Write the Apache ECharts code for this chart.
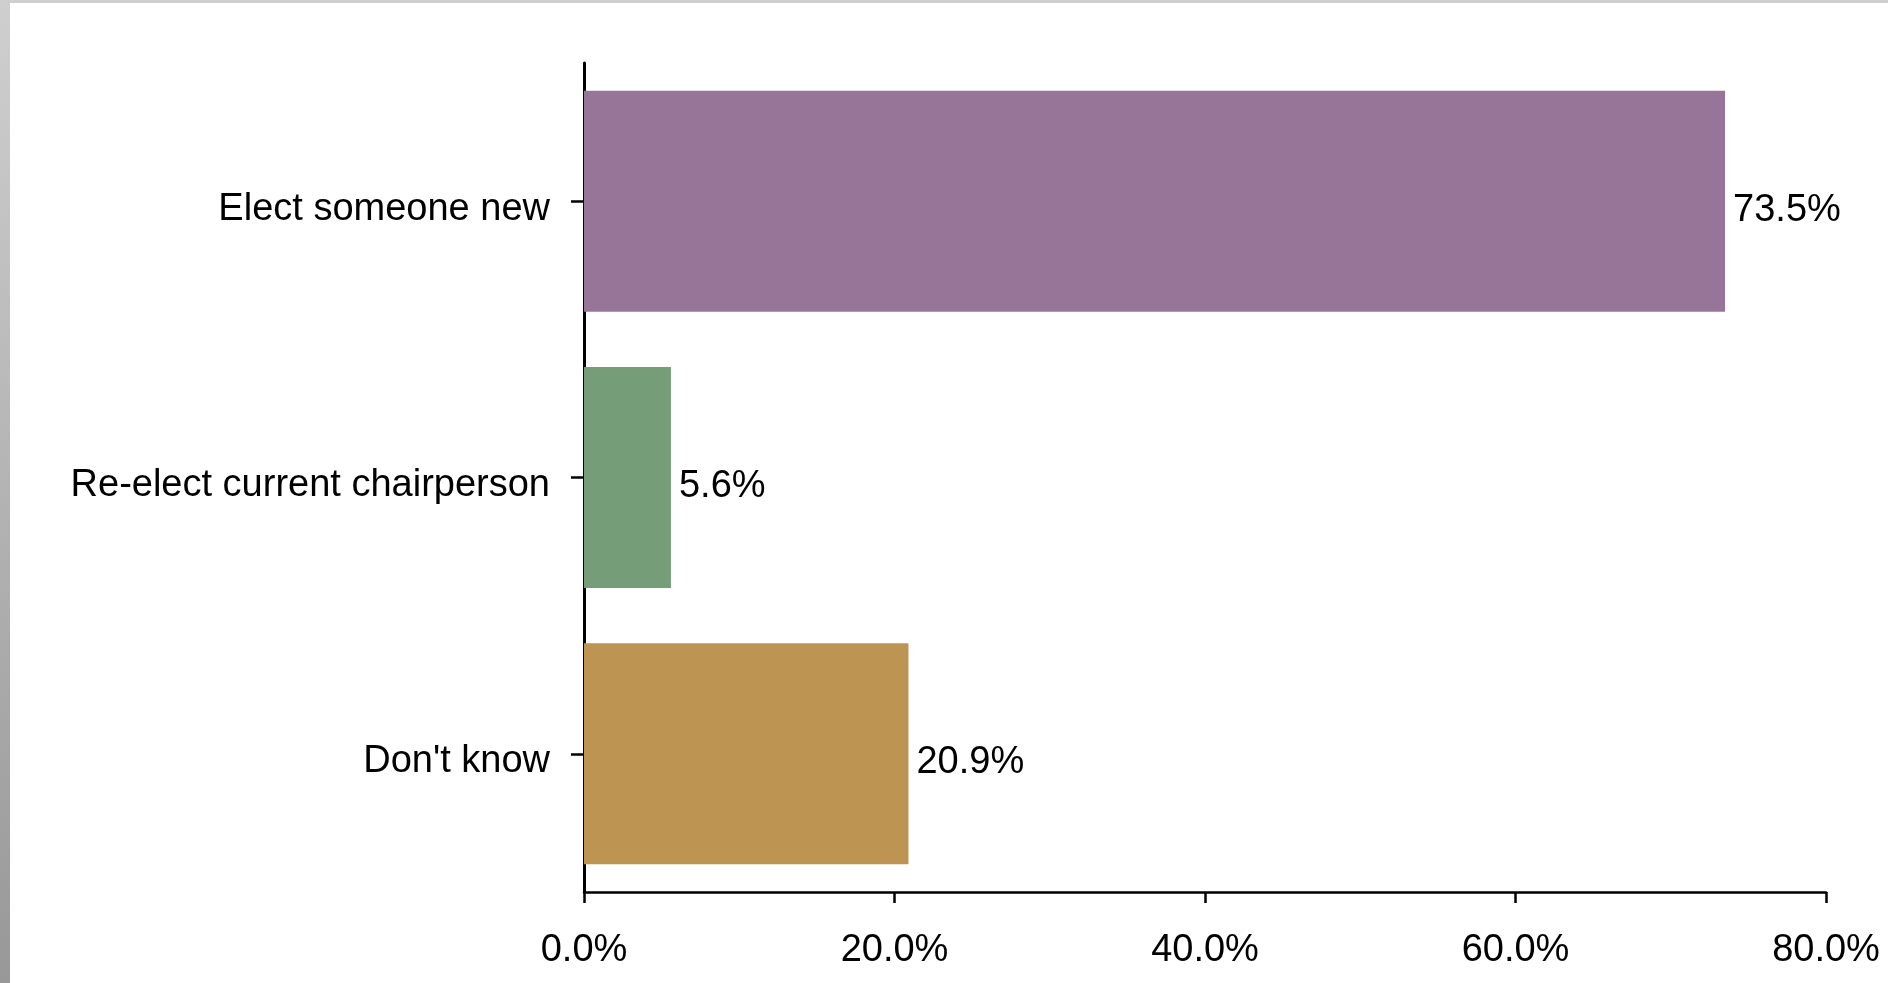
<!DOCTYPE html>
<html>
<head>
<meta charset="utf-8">
<script src="https://cdn.jsdelivr.net/npm/echarts@6/dist/echarts.min.js"></script>
<style>
  html, body { margin: 0; padding: 0; width: 1888px; height: 983px; overflow: hidden; }
  body { background: linear-gradient(to bottom, #cfcfcf, #989898); }
  #chart { position: absolute; left: 10px; top: 3px; width: 1878px; height: 980px; background: #ffffff; }
</style>
</head>
<body>
<div id="chart"></div>
<script>
const categories = ['Elect someone new', 'Re-elect current chairperson', "Don't know"];
const values = [73.5, 5.6, 20.9];
const colors = ['#977599', '#759d77', '#bd9452'];
const xTicks = [0, 20, 40, 60, 80];

const FONT = 'Liberation Sans, Arial, Helvetica, sans-serif';
const chart = echarts.init(document.getElementById('chart'));
chart.setOption({
  animation: false,
  backgroundColor: '#ffffff',
  textStyle: { fontFamily: FONT },
  grid: { left: 574, right: 62, top: 60, bottom: 91, containLabel: false },
  xAxis: {
    type: 'value',
    min: xTicks[0],
    max: xTicks[xTicks.length - 1],
    interval: xTicks[1] - xTicks[0],
    axisLine: { show: true, lineStyle: { color: '#000', width: 2.5 } },
    axisTick: { show: true, length: 11, lineStyle: { color: '#000', width: 2.5 } },
    splitLine: { show: false },
    axisLabel: {
      color: '#000', fontSize: 38, margin: 40, fontFamily: FONT,
      formatter: v => v.toFixed(1) + '%'
    }
  },
  yAxis: {
    type: 'category',
    inverse: true,
    data: categories,
    axisLine: { show: true, lineStyle: { color: '#000', width: 3 } },
    axisTick: { show: true, alignWithLabel: true, length: 13, lineStyle: { color: '#000', width: 2.5 } },
    axisLabel: {
      color: '#000', fontSize: 38, margin: 34, fontFamily: FONT,
      verticalAlign: 'top', lineHeight: 16
    }
  },
  series: [{
    type: 'bar',
    data: values.map((v, i) => ({ value: v, itemStyle: { color: colors[i] } })),
    barCategoryGap: '20%',
    label: {
      show: true, position: 'right', distance: 8,
      color: '#000', fontSize: 38, fontFamily: FONT,
      offset: [0, 9],
      formatter: p => p.value.toFixed(1) + '%'
    }
  }]
});
</script>
</body>
</html>
